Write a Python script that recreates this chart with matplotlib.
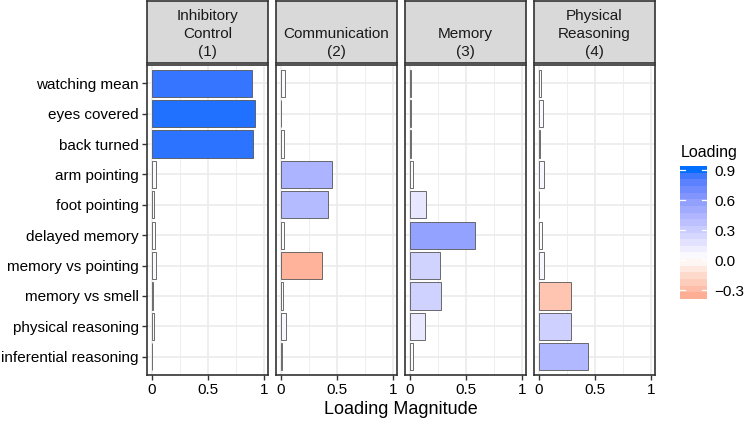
import numpy as np
import matplotlib
matplotlib.use("Agg")
import matplotlib.pyplot as plt
from matplotlib.colors import to_rgb

plt.rcParams['font.family'] = ['Liberation Sans', 'DejaVu Sans']

# ---------------- data ----------------
items = ["watching mean", "eyes covered", "back turned", "arm pointing",
         "foot pointing", "delayed memory", "memory vs pointing",
         "memory vs smell", "physical reasoning", "inferential reasoning"]
factor_titles = ["Inhibitory\nControl\n(1)", "Communication\n(2)",
                 "Memory\n(3)", "Physical\nReasoning\n(4)"]
loadings_f1 = [0.89, 0.92, 0.905, 0.04, 0.025, 0.03, 0.04, 0.01, 0.025, 0.005]
loadings_f2 = [0.035, 0.005, 0.03, 0.46, 0.42, 0.03, -0.37, 0.025, 0.05, 0.01]
loadings_f3 = [0.01, 0.015, 0.01, 0.027, 0.145, 0.585, 0.27, 0.28, 0.14, 0.03]
loadings_f4 = [0.025, 0.035, 0.015, 0.048, 0.008, 0.03, 0.048, -0.285, 0.285, 0.435]
x_ticks = [0, 0.5, 1]
x_tick_labels = ["0", "0.5", "1"]
legend_ticks = [0.9, 0.6, 0.3, 0.0, -0.3]
legend_tick_labels = ["0.9", "0.6", "0.3", "0.0", "\u22120.3"]
color_limits = (-0.39, 0.94)

all_loadings = [loadings_f1, loadings_f2, loadings_f3, loadings_f4]

# ---------------- Lab gradient (like scale_fill_gradient2) ----------------
M = np.array([[0.4124564, 0.3575761, 0.1804375],
              [0.2126729, 0.7151522, 0.0721750],
              [0.0193339, 0.1191920, 0.9503041]])
Minv = np.linalg.inv(M)
WHITE = np.array([0.95047, 1.0, 1.08883])

def rgb2lab(rgb):
    c = np.asarray(rgb, float)
    lin = np.where(c <= 0.04045, c / 12.92, ((c + 0.055) / 1.055) ** 2.4)
    xyz = M @ lin / WHITE
    f = np.where(xyz > 216 / 24389, np.cbrt(xyz), (24389 / 27 * xyz + 16) / 116)
    return np.array([116 * f[1] - 16, 500 * (f[0] - f[1]), 200 * (f[1] - f[2])])

def lab2rgb(lab):
    L, a, b = lab
    fy_ = (L + 16) / 116
    fx_ = fy_ + a / 500
    fz_ = fy_ - b / 200
    f = np.array([fx_, fy_, fz_])
    xyz = np.where(f ** 3 > 216 / 24389, f ** 3, (116 * f - 16) / (24389 / 27)) * WHITE
    lin = Minv @ xyz
    lin = np.clip(lin, 0, 1)
    c = np.where(lin <= 0.0031308, 12.92 * lin, 1.055 * lin ** (1 / 2.4) - 0.055)
    return np.clip(c, 0, 1)

LOW = rgb2lab(to_rgb("#FF0000"))
MID = rgb2lab(to_rgb("#FFFFFF"))
HIGH = rgb2lab(to_rgb("#006EFF"))
ext = max(abs(color_limits[0]), abs(color_limits[1]))

def fill_color(v):
    t = 0.5 + v / (2 * ext)
    t = min(max(t, 0), 1)
    if t < 0.5:
        s = t / 0.5
        lab = LOW + (MID - LOW) * s
    else:
        s = (t - 0.5) / 0.5
        lab = MID + (HIGH - MID) * s
    return lab2rgb(lab)

# ---------------- figure ----------------
W, H = 748, 422
fig = plt.figure(figsize=(W / 100, H / 100), dpi=100)

def fx(px):
    return px / W

def fy(py):
    return 1 - py / H

panel_left = [146.5, 275.5, 404.5, 533.5]
panel_w = 121.5
panel_top, panel_bot = 65, 375
strip_top, strip_bot = 1, 63
grey20 = "#333333"

y = np.arange(len(items))
for i, (vals, title) in enumerate(zip(all_loadings, factor_titles)):
    x0 = panel_left[i]
    ax = fig.add_axes([fx(x0), fy(panel_bot), fx(panel_w), (panel_bot - panel_top) / H])
    ax.set_xlim(-0.045, 1.035)
    ax.set_ylim(len(items) - 0.4, -0.6)
    # grid
    for gx in [0.25, 0.75]:
        ax.axvline(gx, color="#EBEBEB", lw=0.6, zorder=0)
    for gx in x_ticks:
        ax.axvline(gx, color="#EBEBEB", lw=1.2, zorder=0)
    for gy in y:
        ax.axhline(gy, color="#EBEBEB", lw=1.2, zorder=0)
    mags = [abs(v) for v in vals]
    cols = [fill_color(v) for v in vals]
    ax.barh(y, mags, height=0.9, color=cols, edgecolor="#555555", linewidth=0.6, zorder=2)
    ax.set_xticks(x_ticks)
    ax.set_xticklabels(x_tick_labels, fontsize=11, color="black")
    ax.tick_params(axis='x', length=3.5, width=1.0, color=grey20, pad=2)
    if i == 0:
        ax.set_yticks(y)
        ax.set_yticklabels(items, fontsize=11, color="black")
        ax.tick_params(axis='y', length=3.5, width=1.0, color=grey20, pad=2)
    else:
        ax.set_yticks([])
    for sp in ax.spines.values():
        sp.set_color(grey20)
        sp.set_linewidth(1.2)
    ax.set_facecolor("white")

    sax = fig.add_axes([fx(x0), fy(strip_bot), fx(panel_w), (strip_bot - strip_top) / H])
    sax.set_facecolor("#D9D9D9")
    sax.set_xticks([])
    sax.set_yticks([])
    for sp in sax.spines.values():
        sp.set_color(grey20)
        sp.set_linewidth(1.2)
    lines = title.split("\n")
    for k, line in enumerate(reversed(lines)):
        ypix = 52 - 18 * k
        fig.text(fx(x0 + panel_w / 2), fy(ypix), line, ha="center", va="center",
                 fontsize=11, color="#1A1A1A")

fig.text(fx(401), fy(410), "Loading Magnitude", ha="center", va="center", fontsize=13)

# ---------------- colourbar legend ----------------
cb_x0, cb_x1, cb_y0, cb_y1 = 680, 707, 166, 299
cax = fig.add_axes([fx(cb_x0), fy(cb_y1), fx(cb_x1 - cb_x0), (cb_y1 - cb_y0) / H])
nbin = 20
vals_bins = np.linspace(color_limits[0], color_limits[1], nbin)
img = np.array([[fill_color(v)] for v in vals_bins])
cax.imshow(img, aspect="auto", origin="lower", interpolation="nearest",
           extent=[0, 1, color_limits[0], color_limits[1]])
cax.set_xlim(0, 1)
cax.set_ylim(color_limits)
for t in legend_ticks:
    cax.plot([0, 0.2], [t, t], color="white", lw=0.9)
    cax.plot([0.8, 1], [t, t], color="white", lw=0.9)
cax.set_xticks([])
cax.yaxis.tick_right()
cax.set_yticks(legend_ticks)
cax.set_yticklabels(legend_tick_labels, fontsize=11)
cax.tick_params(axis='y', length=0, pad=5)
for sp in cax.spines.values():
    sp.set_visible(False)
fig.text(fx(681), fy(152), "Loading", ha="left", va="center", fontsize=11.5)

fig.savefig("out.png", dpi=100)
